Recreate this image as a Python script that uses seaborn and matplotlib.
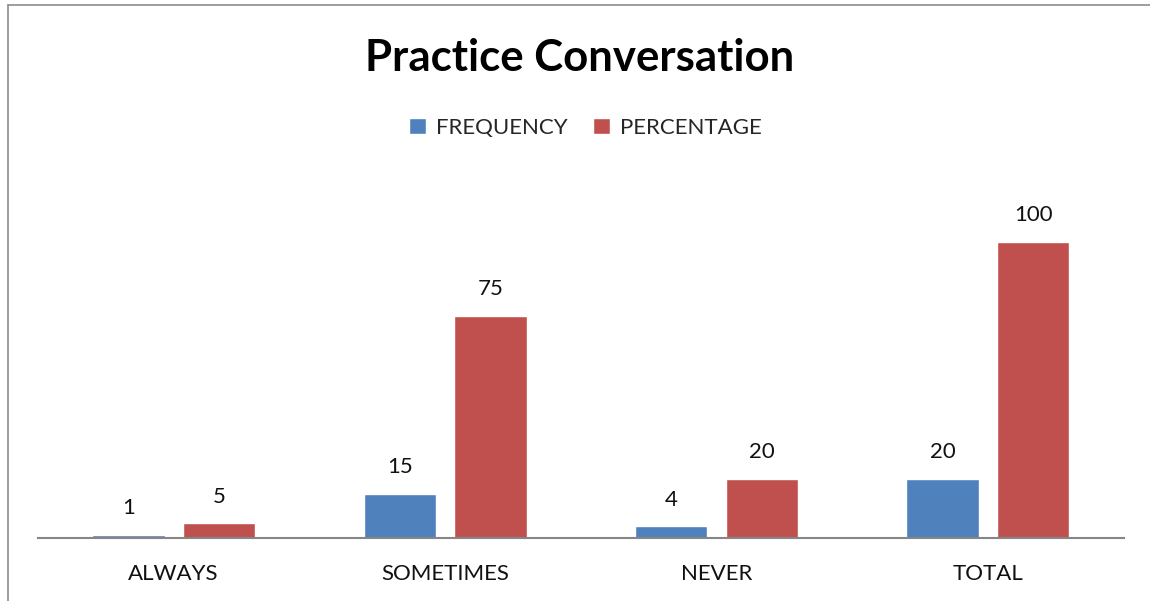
import matplotlib
matplotlib.use("Agg")
import matplotlib.pyplot as plt
from matplotlib.lines import Line2D
import pandas as pd
import seaborn as sns

categories = ["ALWAYS", "SOMETIMES", "NEVER", "TOTAL"]
frequency = [1, 15, 4, 20]
percentage = [5, 75, 20, 100]
series_names = ["FREQUENCY", "PERCENTAGE"]

df = pd.DataFrame({
    "category": categories * 2,
    "series": [series_names[0]] * 4 + [series_names[1]] * 4,
    "value": frequency + percentage,
})

sns.set_theme(style="white")
plt.rcParams["font.family"] = ["Lato", "DejaVu Sans"]

fig = plt.figure(figsize=(11.5, 6.01), dpi=100)
ax = fig.add_axes([0.033, 0.1048, 0.944, 0.591])

sns.barplot(data=df, x="category", y="value", hue="series",
            palette=["#4F81BD", "#C0504D"], width=0.667, gap=0.2,
            saturation=1, ax=ax, legend=True)

for cont in ax.containers:
    ax.bar_label(cont, padding=12, fontsize=16, color="#111111")

ax.set_ylim(0, 120)
ax.set_xlim(-0.5, 3.5)
ax.set_xlabel("")
ax.set_ylabel("")
ax.set_yticks([])
ax.tick_params(axis="x", labelsize=16, colors="#111111", pad=19, length=0)
for s in ["top", "right", "left"]:
    ax.spines[s].set_visible(False)
ax.spines["bottom"].set_color("#868686")
ax.spines["bottom"].set_linewidth(1.5)

leg = ax.legend(loc="center", bbox_to_anchor=(0.509, 0.787), bbox_transform=fig.transFigure,
                ncol=2, frameon=False, fontsize=16, handlelength=0.75, handleheight=0.75,
                columnspacing=1.15, handletextpad=0.45)

fig.text(0.504, 0.903, "Practice Conversation", ha="center", va="center",
         fontsize=31.5, fontweight="bold", color="#000000")

# chart border (top and left edges visible)
fig.add_artist(Line2D([8 / 1150, 8 / 1150], [0, 1 - 5 / 601], transform=fig.transFigure,
                      color="#8c8c8c", linewidth=1.2))
fig.add_artist(Line2D([8 / 1150, 1], [1 - 5 / 601, 1 - 5 / 601], transform=fig.transFigure,
                      color="#8c8c8c", linewidth=1.2))

fig.savefig("out.png", dpi=100, facecolor="white")
